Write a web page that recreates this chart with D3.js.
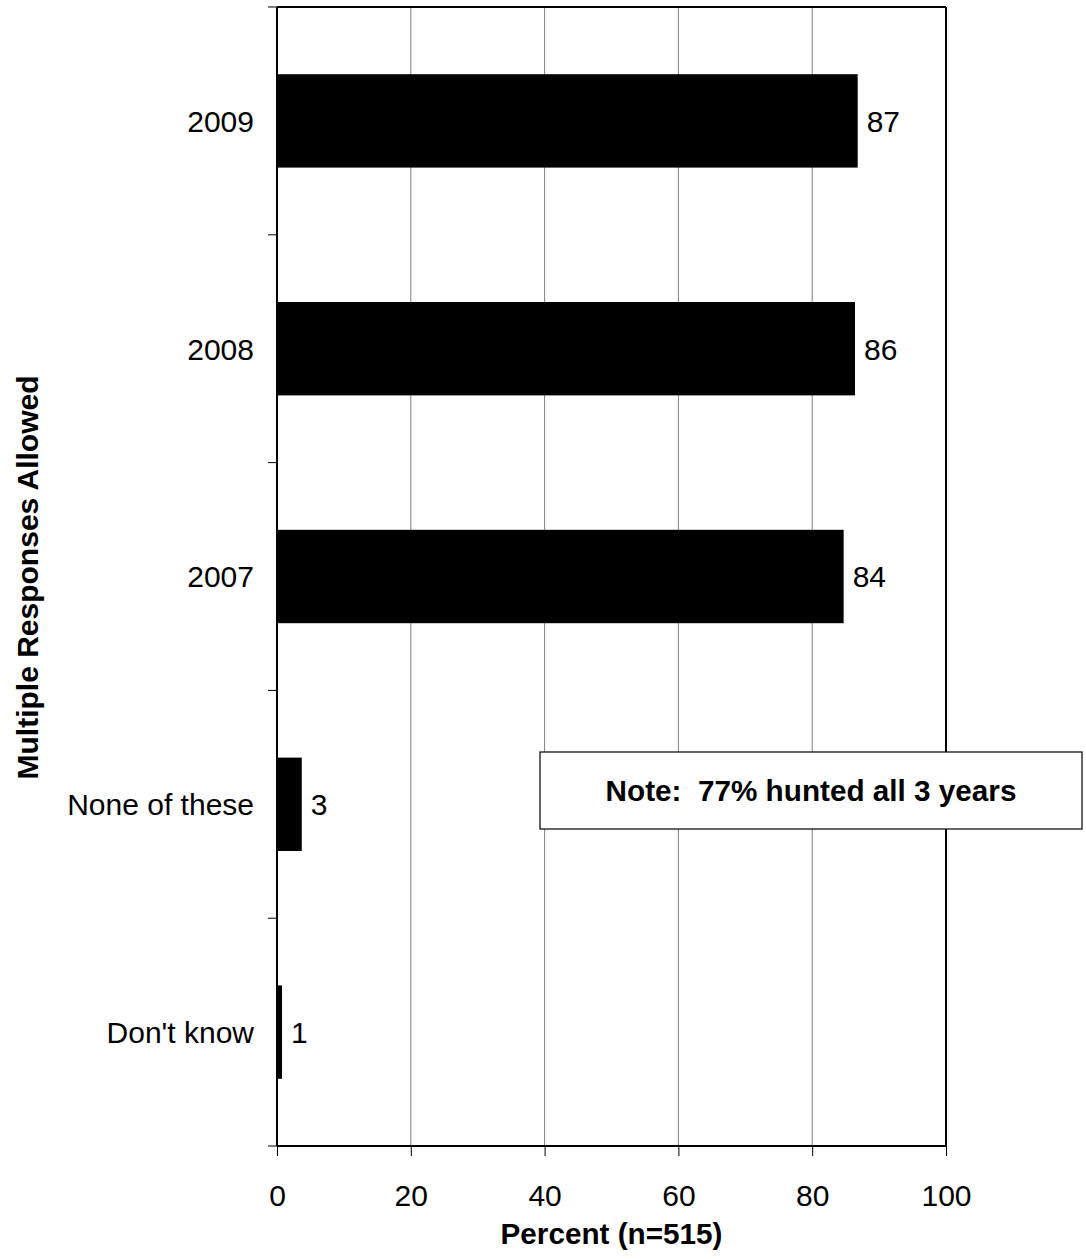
<!DOCTYPE html>
<html><head><meta charset="utf-8">
<script src="https://cdn.jsdelivr.net/npm/d3@7"></script>
<style>body{margin:0;background:#fff}svg{display:block;font-family:"Liberation Sans",Arial,sans-serif}</style>
</head><body>
<script>
const categories = ["2009","2008","2007","None of these","Don't know"];
const values = [86.8, 86.4, 84.7, 3.7, 0.75];
const labels = ["87","86","84","3","1"];
const xTicks = [0,20,40,60,80,100];
const noteText = "Note:  77% hunted all 3 years";

const W = 1086, H = 1259;
const m = {left:277, right:946, top:7, bottom:1146};
const FS = 30, FB = 29.7;
const svg = d3.select("body").append("svg").attr("width",W).attr("height",H);

const x = d3.scaleLinear().domain([0,100]).range([m.left, m.right]);
const y = d3.scaleBand().domain(categories).range([m.top, m.bottom]).paddingInner(0.59).paddingOuter(0.295);
const yb = d3.scaleBand().domain(categories).range([m.top, m.bottom]);

// gridlines
svg.append("g").selectAll("line").data(xTicks.slice(1,-1)).join("line")
  .attr("x1",d=>x(d)).attr("x2",d=>x(d)).attr("y1",m.top).attr("y2",m.bottom)
  .attr("stroke","#808080").attr("stroke-width",1);

// bars
svg.append("g").selectAll("rect").data(categories).join("rect")
  .attr("x",x(0)).attr("y",d=>y(d)).attr("width",(d,i)=>x(values[i])-x(0)).attr("height",y.bandwidth())
  .attr("fill","#000");

// value labels
svg.append("g").selectAll("text").data(categories).join("text")
  .attr("x",(d,i)=>x(values[i])+9).attr("y",d=>y(d)+y.bandwidth()/2).attr("dy","0.36em")
  .attr("font-size",FS).text((d,i)=>labels[i]);

// frame: top and right
svg.append("line").attr("x1",m.left).attr("x2",m.right).attr("y1",m.top).attr("y2",m.top).attr("stroke","#000").attr("stroke-width",2);
svg.append("line").attr("x1",m.right).attr("x2",m.right).attr("y1",m.top).attr("y2",m.bottom).attr("stroke","#000").attr("stroke-width",2);

// y axis
const yTickPos = categories.map(c=>yb(c)).concat([m.bottom]);
svg.append("g").selectAll("line").data(yTickPos).join("line")
  .attr("x1",m.left-9).attr("x2",m.left).attr("y1",d=>d).attr("y2",d=>d).attr("stroke","#000").attr("stroke-width",1);
svg.append("line").attr("x1",m.left).attr("x2",m.left).attr("y1",m.top).attr("y2",m.bottom).attr("stroke","#000").attr("stroke-width",2);
svg.append("g").selectAll("text").data(categories).join("text")
  .attr("x",254).attr("y",d=>yb(d)+yb.bandwidth()/2).attr("dy","0.36em").attr("text-anchor","end")
  .attr("font-size",FS).text(d=>d);

// x axis
const xAxis = d3.axisBottom(x).tickValues(xTicks).tickSize(10).tickFormat(d3.format("d"));
const gx = svg.append("g").attr("transform",`translate(0,${m.bottom})`).call(xAxis);
gx.select(".domain").attr("stroke","#000").attr("stroke-width",2).attr("d",`M${m.left},0H${m.right}`);
gx.selectAll(".tick line").attr("stroke","#000").attr("stroke-width",1);
gx.selectAll(".tick text").attr("font-size",FS).attr("font-family","Liberation Sans, Arial, sans-serif").attr("fill","#000").attr("y",49).attr("dy","0.36em");

// axis titles
svg.append("text").attr("x",(m.left+m.right)/2).attr("y",1233).attr("dy","0.36em").attr("text-anchor","middle")
  .attr("font-size",FB).attr("font-weight","bold").text("Percent (n=515)");
svg.append("text").attr("transform",`translate(27,${(m.top+m.bottom)/2+1}) rotate(-90)`).attr("dy","0.36em").attr("text-anchor","middle")
  .attr("font-size",FB+0.3).attr("font-weight","bold").text("Multiple Responses Allowed");

// note box
svg.append("rect").attr("x",540).attr("y",752).attr("width",542).attr("height",77).attr("fill","#fff").attr("stroke","#000").attr("stroke-width",1.2);
svg.append("text").attr("x",811).attr("y",790.5).attr("dy","0.36em").attr("text-anchor","middle")
  .attr("font-size",FB).attr("font-weight","bold").attr("xml:space","preserve").style("white-space","pre").text(noteText);
</script>
</body></html>
